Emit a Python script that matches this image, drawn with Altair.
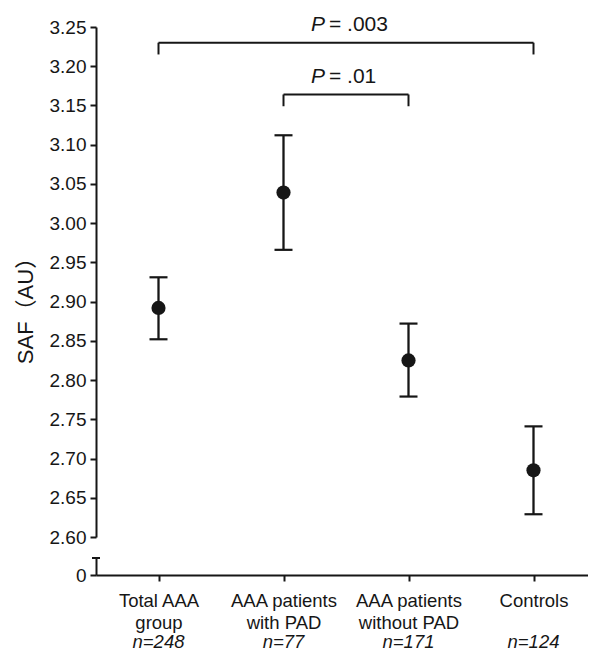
import altair as alt
import pandas as pd

# ---- data ----
categories = ["Total AAA|group", "AAA patients|with PAD", "AAA patients|without PAD", "Controls"]
n_labels = ["n=248", "n=77", "n=171", "n=124"]
means = [2.892, 3.039, 2.825, 2.685]
upper = [2.931, 3.112, 2.872, 2.741]
lower = [2.852, 2.966, 2.779, 2.629]

y_ticks = [2.60, 2.65, 2.70, 2.75, 2.80, 2.85, 2.90, 2.95, 3.00, 3.05, 3.10, 3.15, 3.20, 3.25]
y_low_ticks = [0]
axis_break = [1.0]

# significance brackets
bracket_from = ["Total AAA|group", "AAA patients|with PAD"]
bracket_to = ["Controls", "AAA patients|without PAD"]
bracket_y = [3.230, 3.164]
bracket_leg = [3.215, 3.149]
p_values = ["= .003", "= .01"]
p_text_y = [3.253, 3.186]

# ---- layout / style ----
W = 492          # keeps the whole svg within the 581px body (no down-scaling)
H_TOP = 510
H_BOT = 17
STEP = 125.0
N = len(categories)
PAD_OUT = (W / STEP - (N - 1)) / 2
ALIGN = (STEP / 2) / (W - STEP * (N - 1))
ink = "#161616"
FONT = "Liberation Sans"

df = pd.DataFrame({"cat": categories, "n": n_labels, "mean": means, "lo": lower, "hi": upper})
br = pd.DataFrame({"a": bracket_from, "b": bracket_to, "y": bracket_y, "leg": bracket_leg,
                   "p": p_values, "ty": p_text_y})
legs = pd.DataFrame({"cat": bracket_from + bracket_to, "y": bracket_y * 2, "leg": bracket_leg * 2})
brk = pd.DataFrame({"brk": axis_break})

xscale = alt.Scale(type="point", domain=categories, padding=PAD_OUT, align=ALIGN)
yscale = alt.Scale(domain=[2.60, 3.25], nice=False, zero=False)
yaxis = alt.Axis(values=y_ticks, format=".2f", title="SAF（AU）", titleX=-64, titleY=278,
                 titleAngle=-90, titleBaseline="alphabetic", titleAlign="center",
                 titleFontSize=22, titleFontWeight="normal", titleColor=ink,
                 titleFont="Liberation Sans, Noto Sans CJK SC")

x_top = alt.X("cat:N", scale=xscale, axis=None)

def Y(field):
    return alt.Y(field, scale=yscale, axis=yaxis)

base = alt.Chart(df)
bars = base.mark_rule(color=ink, strokeWidth=2.3).encode(x=x_top, y=Y("lo:Q"), y2="hi:Q")
cap_hi = base.mark_tick(color=ink, size=18, thickness=2.2, opacity=1).encode(x=x_top, y=Y("hi:Q"))
cap_lo = base.mark_tick(color=ink, size=18, thickness=2.2, opacity=1).encode(x=x_top, y=Y("lo:Q"))
pts = base.mark_circle(color=ink, size=201, opacity=1).encode(x=x_top, y=Y("mean:Q"))

hbar = alt.Chart(br).mark_rule(color=ink, strokeWidth=2).encode(
    x=alt.X("a:N", scale=xscale, axis=None), x2="b:N", y=Y("y:Q"))
legbar = alt.Chart(legs).mark_rule(color=ink, strokeWidth=2).encode(
    x=alt.X("cat:N", scale=xscale, axis=None), y=Y("leg:Q"), y2="y:Q")
MID = STEP / 2 + STEP * (N - 1) / 2
p_it = alt.Chart(br).mark_text(text="P", fontStyle="italic", align="right", baseline="middle",
                               fontSize=21, dx=-21, color=ink, font=FONT).encode(
    x=alt.value(MID), y=Y("ty:Q"))
p_rest = alt.Chart(br).mark_text(align="left", baseline="middle", fontSize=21, dx=-17,
                                 color=ink, font=FONT).encode(
    x=alt.value(MID), y=Y("ty:Q"), text="p:N")

top = alt.layer(bars, cap_hi, cap_lo, pts, hbar, legbar, p_it, p_rest).properties(width=W, height=H_TOP)

ybot = alt.Scale(domain=[0, 1], nice=False, zero=False)
ybot_axis = alt.Axis(values=y_low_ticks, format="d", title=None)
xaxis = alt.Axis(title=None, labelAngle=0, labelExpr="split(datum.label, '|')", labelPadding=10,
                 labelLineHeight=22, labelFontSize=18.5, labelBaseline="top", tickSize=6)

cap = alt.Chart(brk).mark_rule(color=ink, strokeWidth=2).encode(
    x=alt.value(-4), x2=alt.value(4), y=alt.Y("brk:Q", scale=ybot, axis=ybot_axis))
ntext = alt.Chart(df).mark_text(fontStyle="italic", fontSize=18.5, baseline="alphabetic", align="center",
                                color=ink, font=FONT).encode(
    x=alt.X("cat:N", scale=xscale, axis=xaxis), y=alt.value(H_BOT + 73), text="n:N")

bottom = alt.layer(cap, ntext).properties(width=W, height=H_BOT)

chart = alt.vconcat(top, bottom, spacing=21, bounds="flush").properties(
    padding={"left": 6, "top": 5, "right": 0, "bottom": 0}
).configure_axis(
    domainColor=ink, domainWidth=2, tickColor=ink, tickWidth=2, tickSize=6,
    labelFont=FONT, labelFontSize=19, labelColor=ink, labelPadding=4, grid=False
).configure_view(stroke=None)

chart.save("out.html", embed_options={"renderer": "svg", "actions": False})
